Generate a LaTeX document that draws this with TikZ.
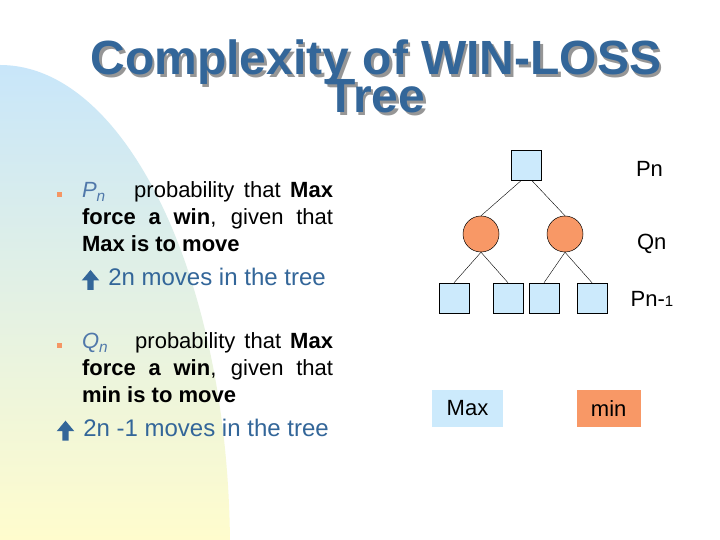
\documentclass[tikz,border=0pt]{standalone}
\usepackage{fontspec}
\setmainfont{Liberation Sans}
\usepackage{xcolor}
\usepackage{tikz}
\usetikzlibrary{positioning}

\begin{document}
\begin{tikzpicture}[x=1pt,y=1pt,
  maxnode/.style={draw=black,line width=0.5pt,fill=nodeBlue,minimum size=30pt,inner sep=0pt},
  minnode/.style={circle,draw=black,line width=0.5pt,fill=nodeOrange,minimum size=36pt,inner sep=0pt},
  edge/.style={draw=black,line width=0.4pt},
  titletext/.style={anchor=base,inner sep=0pt,outer sep=0pt,font=\fontsize{48}{48}\selectfont\bfseries},
  bodytext/.style={anchor=base west,inner sep=0pt,outer sep=0pt,font=\fontsize{22}{26}\selectfont},
  subtext/.style={anchor=base west,inner sep=0pt,outer sep=0pt,text=titleBlue,font=\fontsize{24}{28}\selectfont},
  leveltext/.style={anchor=base west,inner sep=0pt,outer sep=0pt,font=\fontsize{22}{26}\selectfont},
  keybox/.style={inner sep=0pt,minimum height=36.7pt,font=\fontsize{22}{26}\selectfont}]
\definecolor{fillColor}{RGB}{255,255,255}
\definecolor{titleBlue}{RGB}{51,102,153}
\definecolor{shadowGray}{RGB}{150,150,150}
\definecolor{pnBlue}{RGB}{80,120,170}
\definecolor{nodeBlue}{RGB}{204,234,252}
\definecolor{nodeOrange}{RGB}{248,152,102}
\definecolor{bulletOrange}{RGB}{245,150,100}
\definecolor{shadeTop}{RGB}{200,230,250}
\definecolor{shadeMid}{RGB}{226,240,226}
\definecolor{shadeBottom}{RGB}{255,252,205}
\path[use as bounding box,fill=fillColor] (0,0) rectangle (720,540);
\begin{scope}
\path[clip] (0,-10) ellipse [x radius=230, y radius=485];
\shade[top color=shadeTop,middle color=shadeMid,bottom color=shadeBottom] (0,0) rectangle (232,476);
\end{scope}

\node[titletext,text=shadowGray] at (378.5,462.5) {Complexity of WIN-LOSS};
\node[titletext,text=shadowGray] at (378.5,424.5) {Tree};
\node[titletext,text=titleBlue] (title) at (376,465) {Complexity of WIN-LOSS};
\node[titletext,text=titleBlue] (title2) at (376,427) {Tree};

\fill[bulletOrange] (56.8,343.2) rectangle ++(5,5);
\node[bodytext] (p1) at (82,342) {\makebox[251pt][s]{\textcolor{pnBlue}{\textit{P}\textsubscript{\textit{n}}}\ \ \ probability that \textbf{Max}}};
\node[bodytext] (p2) at (82,315) {\makebox[251pt][s]{\textbf{force a win}, given that}};
\node[bodytext] (p3) at (82,288.3) {\textbf{Max is to move}};
\fill[titleBlue] (87.3,250) -- ++(0,9.5) -- ++(-5.6,0) -- ++(8.8,10.5) -- ++(8.8,-10.5) -- ++(-5.6,0) -- ++(0,-9.5) -- cycle;
\node[subtext] (p4) at (108.3,254) {2n moves in the tree};

\fill[bulletOrange] (56.8,192.3) rectangle ++(5,5);
\node[bodytext] (q1) at (82,191) {\makebox[251pt][s]{\textcolor{pnBlue}{\textit{Q}\textsubscript{\textit{n}}}\ \ \ probability that \textbf{Max}}};
\node[bodytext] (q2) at (82,164) {\makebox[251pt][s]{\textbf{force a win}, given that}};
\node[bodytext] (q3) at (82,137.3) {\textbf{min is to move}};
\fill[titleBlue] (62.3,99.3) -- ++(0,9.5) -- ++(-5.6,0) -- ++(8.8,10.5) -- ++(8.8,-10.5) -- ++(-5.6,0) -- ++(0,-9.5) -- cycle;
\node[subtext] (q4) at (83.3,103.3) {2n -1 moves in the tree};

\node[maxnode] (pn) at (526.5,374.5) {};
\node[minnode] (qn1) at (481,306) {};
\node[minnode] (qn2) at (565,306) {};
\node[maxnode] (pm1) at (454,242) {};
\node[maxnode] (pm2) at (508,242) {};
\node[maxnode] (pm3) at (544,242) {};
\node[maxnode] (pm4) at (592,242) {};

\path[edge] (pn.-110) -- (qn1.north);
\path[edge] (pn.-70) -- (qn2.north);
\path[edge] (qn1.south) -- (pm1.north);
\path[edge] (qn1.south) -- (pm2.north);
\path[edge] (qn2.south) -- (pm3.north);
\path[edge] (qn2.south) -- (pm4.north);

\node[leveltext] (pnlabel) at (636,363.3) {Pn};
\node[leveltext] (qnlabel) at (637,290) {Qn};
\node[leveltext] (pmlabel) at (630.7,233.3) {Pn-{\fontsize{15}{15}\selectfont 1}};

\node[keybox,fill=nodeBlue,minimum width=70.4pt] (maxkey) at (467.5,131.7) {Max};
\node[keybox,fill=nodeOrange,minimum width=64pt] (minkey) at (608.7,131.7) {min};
\end{tikzpicture}
\end{document}
